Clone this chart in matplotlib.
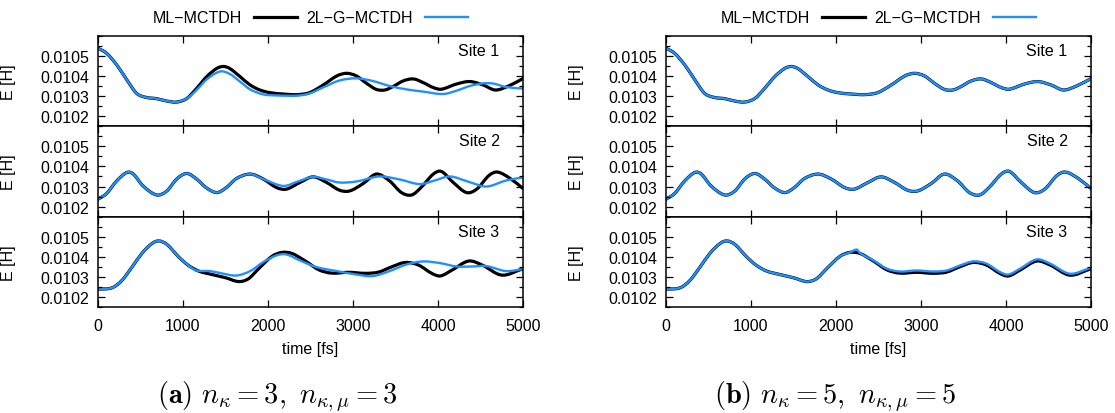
import matplotlib
matplotlib.use('Agg')
import matplotlib.pyplot as plt
from matplotlib.lines import Line2D
from matplotlib.path import Path
from matplotlib.patches import PathPatch
from matplotlib.ticker import MultipleLocator, FormatStrFormatter

plt.rcParams['font.family'] = ['Liberation Sans', 'DejaVu Sans']

# ML-MCTDH reference (same in both panels), energies in Hartree
t_ml_1 = [0, 100, 220, 340, 455, 570, 690, 810, 925, 1045, 1160, 1280, 1400, 1475, 1550, 1670,
          1790, 1905, 2020, 2180, 2340, 2490, 2650, 2810, 2925, 3040, 3160, 3275, 3375, 3470,
          3590, 3710, 3825, 3945, 4040, 4220, 4375, 4530, 4675, 4830, 5000]
e_ml_1 = [0.010538, 0.010513, 0.010455, 0.010380, 0.010313, 0.010293, 0.010287, 0.010275,
          0.010270, 0.010288, 0.010338, 0.010397, 0.010438, 0.010447, 0.010437, 0.010397,
          0.010355, 0.010330, 0.010317, 0.010310, 0.010307, 0.010317, 0.010355, 0.010400,
          0.010413, 0.010400, 0.010363, 0.010333, 0.010330, 0.010347, 0.010375, 0.010385,
          0.010367, 0.010342, 0.010334, 0.010360, 0.010372, 0.010355, 0.010330, 0.010350,
          0.010387]

t_ml_2 = [0, 100, 220, 340, 415, 530, 690, 810, 925, 1045, 1160, 1280, 1400, 1510, 1630, 1790,
          1945, 2100, 2215, 2375, 2530, 2690, 2840, 2960, 3120, 3275, 3430, 3570, 3690, 3800,
          3945, 4040, 4180, 4335, 4455, 4600, 4700, 4850, 5000]
e_ml_2 = [0.010237, 0.010265, 0.010328, 0.010370, 0.010362, 0.010303, 0.010258, 0.010278,
          0.010337, 0.010365, 0.010337, 0.010292, 0.010270, 0.010295, 0.010340, 0.010362,
          0.010337, 0.010295, 0.010287, 0.010320, 0.010348, 0.010320, 0.010282, 0.010278,
          0.010315, 0.010362, 0.010328, 0.010270, 0.010258, 0.010295, 0.010362, 0.010375,
          0.010320, 0.010270, 0.010287, 0.010355, 0.010372, 0.010340, 0.010290]

t_ml_3 = [0, 165, 280, 400, 520, 635, 715, 810, 950, 1065, 1185, 1340, 1500, 1655, 1770, 1890,
          2045, 2165, 2280, 2440, 2600, 2750, 2950, 3145, 3300, 3460, 3615, 3770, 3930, 4030,
          4165, 4360, 4520, 4750, 4990]
e_ml_3 = [0.010240, 0.010247, 0.010283, 0.010350, 0.010420, 0.010467, 0.010480, 0.010463,
          0.010400, 0.010358, 0.010330, 0.010313, 0.010297, 0.010278, 0.010292, 0.010342,
          0.010403, 0.010423, 0.010418, 0.010380, 0.010336, 0.010320, 0.010324, 0.010319,
          0.010325, 0.010352, 0.010373, 0.010360, 0.010318, 0.010306, 0.010335, 0.010380,
          0.010360, 0.010310, 0.010340]

# 2L-G-MCTDH, n_kappa = 3, n_kappa,mu = 3
t_a_1 = [0, 100, 220, 340, 455, 570, 690, 810, 925, 1045, 1160, 1280, 1435, 1550, 1670, 1790,
         1945, 2100, 2340, 2490, 2650, 2840, 3040, 3230, 3430, 3630, 3825, 4060, 4220, 4375,
         4530, 4650, 4800, 5000]
e_a_1 = [0.010538, 0.010513, 0.010455, 0.010380, 0.010313, 0.010293, 0.010287, 0.010275,
         0.010270, 0.010288, 0.010330, 0.010383, 0.010422, 0.010410, 0.010372, 0.010333,
         0.010308, 0.010303, 0.010302, 0.010313, 0.010343, 0.010377, 0.010388, 0.010375,
         0.010350, 0.010333, 0.010322, 0.010310, 0.010327, 0.010350, 0.010363, 0.010362,
         0.010345, 0.010337]

t_a_2 = [0, 100, 220, 340, 415, 530, 690, 810, 925, 1045, 1160, 1280, 1400, 1510, 1630, 1790,
         1945, 2180, 2350, 2530, 2690, 2840, 3040, 3310, 3550, 3785, 3960, 4140, 4350, 4570,
         4800, 5000]
e_a_2 = [0.010237, 0.010265, 0.010328, 0.010370, 0.010362, 0.010303, 0.010258, 0.010278,
         0.010337, 0.010365, 0.010337, 0.010292, 0.010270, 0.010295, 0.010340, 0.010362,
         0.010337, 0.010303, 0.010325, 0.010348, 0.010335, 0.010320, 0.010325, 0.010350,
         0.010335, 0.010312, 0.010330, 0.010350, 0.010325, 0.010300, 0.010330, 0.010345]

t_a_3 = [0, 165, 280, 400, 520, 635, 715, 810, 950, 1065, 1160, 1320, 1475, 1630, 1790, 1945,
         2100, 2215, 2375, 2570, 2810, 3040, 3230, 3430, 3630, 3825, 4020, 4220, 4410, 4570,
         4800, 5000]
e_a_3 = [0.010240, 0.010247, 0.010283, 0.010350, 0.010420, 0.010467, 0.010480, 0.010463,
         0.010400, 0.010358, 0.010333, 0.010330, 0.010317, 0.010308, 0.010330, 0.010375,
         0.010408, 0.010413, 0.010383, 0.010350, 0.010330, 0.010313, 0.010305, 0.010330,
         0.010363, 0.010378, 0.010370, 0.010353, 0.010353, 0.010355, 0.010330, 0.010340]

# 2L-G-MCTDH, n_kappa = 5, n_kappa,mu = 5 (sites 1 and 2 lie on top of ML-MCTDH)
t_b_1 = t_ml_1
e_b_1 = e_ml_1

t_b_2 = t_ml_2
e_b_2 = e_ml_2

t_b_3 = [0, 165, 280, 400, 520, 635, 715, 810, 950, 1065, 1185, 1340, 1500, 1655, 1770, 1890,
         2045, 2165, 2245, 2280, 2440, 2600, 2750, 2950, 3145, 3300, 3460, 3615, 3770, 3930,
         4030, 4165, 4360, 4520, 4750, 4990]
e_b_3 = [0.010240, 0.010247, 0.010283, 0.010350, 0.010420, 0.010467, 0.010480, 0.010463,
         0.010400, 0.010358, 0.010330, 0.010313, 0.010297, 0.010278, 0.010292, 0.010342,
         0.010403, 0.010423, 0.010437, 0.010420, 0.010383, 0.010342, 0.010328, 0.010333,
         0.010328, 0.010333, 0.010358, 0.010378, 0.010367, 0.010325, 0.010313, 0.010342,
         0.010388, 0.010367, 0.010317, 0.010345]

y_ticks = [0.0102, 0.0103, 0.0104, 0.0105]
site_labels = ['Site 1', 'Site 2', 'Site 3']
legend_labels = ['ML\u2212MCTDH', '2L\u2212G\u2212MCTDH']
captions = [r'$\mathbf{(a)}\ n_{\kappa} = 3,\ n_{\kappa,\mu} = 3$',
            r'$\mathbf{(b)}\ n_{\kappa} = 5,\ n_{\kappa,\mu} = 5$']

ml_series = [(t_ml_1, e_ml_1), (t_ml_2, e_ml_2), (t_ml_3, e_ml_3)]
g_series = [[(t_a_1, e_a_1), (t_a_2, e_a_2), (t_a_3, e_a_3)],
            [(t_b_1, e_b_1), (t_b_2, e_b_2), (t_b_3, e_b_3)]]


def smooth_path(xs, ys):
    """Cubic Hermite curve through the read points, as a Bezier path in data units."""
    n = len(xs)
    slopes = []
    for i in range(n):
        a = max(i - 1, 0)
        b = min(i + 1, n - 1)
        slopes.append((ys[b] - ys[a]) / (xs[b] - xs[a]))
    verts = [(xs[0], ys[0])]
    codes = [Path.MOVETO]
    for i in range(n - 1):
        h = (xs[i + 1] - xs[i]) / 3.0
        verts += [(xs[i] + h, ys[i] + slopes[i] * h),
                  (xs[i + 1] - h, ys[i + 1] - slopes[i + 1] * h),
                  (xs[i + 1], ys[i + 1])]
        codes += [Path.CURVE4] * 3
    return Path(verts, codes)


def draw_curve(ax, xs, ys, color, lw):
    patch = PathPatch(smooth_path(xs, ys), facecolor='none', edgecolor=color, lw=lw,
                      joinstyle='round', capstyle='round')
    ax.add_patch(patch)


W, H = 1115, 414
fig = plt.figure(figsize=(W / 100, H / 100), dpi=100)

FS = 11.5
BLUE = '#1e90ff'
LW_ML = 2.3
LW_G = 1.7
ax_w = 425 / W
ax_h = 90.5 / H
lefts = [98 / W, 666 / W]
tops = [36.7, 127.2, 217.8]

for p in range(2):
    axes = []
    for s in range(3):
        bottom = 1 - (tops[s] + 90.5) / H
        ax = fig.add_axes([lefts[p], bottom, ax_w, ax_h])
        axes.append(ax)
        t_ml, e_ml = ml_series[s]
        t_g, e_g = g_series[p][s]
        draw_curve(ax, t_ml, e_ml, 'black', LW_ML)
        draw_curve(ax, t_g, e_g, BLUE, LW_G)
        ax.set_xlim(0, 5000)
        ax.set_ylim(0.01015, 0.0106)
        ax.xaxis.set_major_locator(MultipleLocator(1000))
        ax.set_yticks(y_ticks)
        ax.yaxis.set_minor_locator(MultipleLocator(0.00005))
        ax.yaxis.set_major_formatter(FormatStrFormatter('%.4f'))
        ax.tick_params(which='both', direction='in', top=True, right=True,
                       labelsize=FS, width=0.9)
        ax.tick_params(which='major', length=5, pad=6.5)
        ax.tick_params(which='minor', length=2.8)
        ax.tick_params(axis='x', pad=8)
        for sp in ax.spines.values():
            sp.set_linewidth(1.1)
        ax.set_ylabel('E [H]', fontsize=FS)
        ax.yaxis.set_label_coords(-0.193, 0.5)
        ax.text(0.945, 0.84, site_labels[s], transform=ax.transAxes,
                ha='right', va='center', fontsize=FS)
        if s < 2:
            ax.tick_params(axis='x', labelbottom=False)
        else:
            ax.set_xlabel('time [fs]', fontsize=FS)
            ax.xaxis.set_label_coords(0.5, -0.46)
            ax.xaxis.label.set_va('center')

    handles = [Line2D([], [], color='black', lw=LW_ML),
               Line2D([], [], color=BLUE, lw=LW_G)]
    axes[0].legend(handles, legend_labels, loc='center', bbox_to_anchor=(0.5, 1.196),
                   ncol=2, frameon=False, markerfirst=False, fontsize=FS, handlelength=2.7,
                   handletextpad=0.75, columnspacing=0.6, borderaxespad=0, borderpad=0)

    cx = (277 + p * 558) / W
    fig.text(cx, 1 - 397 / H, captions[p], ha='center', va='center', fontsize=20.5,
             math_fontfamily='cm')

fig.savefig('out.png', dpi=100)
